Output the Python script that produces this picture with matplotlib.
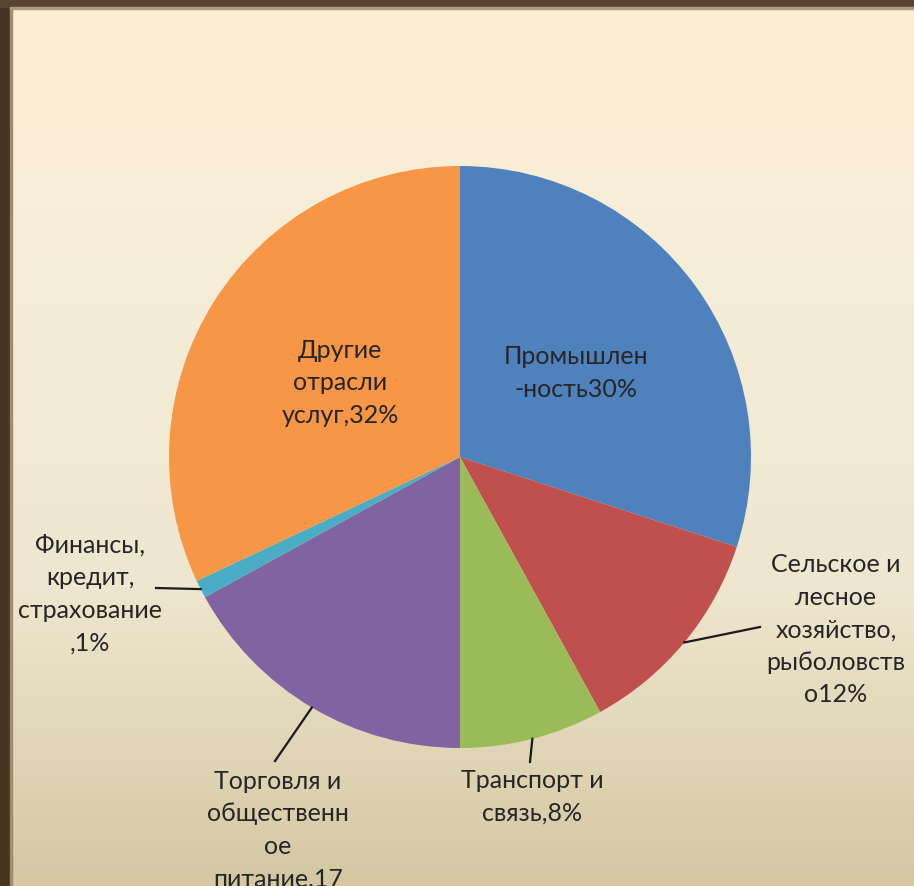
import matplotlib
matplotlib.use('Agg')
import matplotlib.pyplot as plt
import numpy as np
from matplotlib.colors import LinearSegmentedColormap

plt.rcParams['font.family'] = ['Lato', 'DejaVu Sans']

# Sector shares, clockwise from 12 o'clock
labels = [
    'Промышлен\n-ность30%',
    'Сельское и\nлесное\nхозяйство,\nрыболовств\nо12%',
    'Транспорт и\nсвязь,8%',
    'Торговля и\nобщественн\nое\nпитание,17',
    'Финансы,\nкредит,\nстрахование\n,1%',
    'Другие\nотрасли\nуслуг,32%',
]
shares = [30, 12, 8, 17, 1, 32]
colors = ['#4F81BD', '#C0504D', '#9BBB59', '#8064A2', '#4BACC6', '#F79646']

# label anchor (pixel coords, y down) and leader line end points
label_pos = [(576, 373), (836, 630), (532, 797), (278, 830), (90, 594), (340, 383)]
has_leader = [False, True, True, True, True, False]
leader_end = [None, (760, 628), (530, 763), (275, 762), (156, 589), None]

W, H = 914, 887
fig = plt.figure(figsize=(W / 100, H / 100), dpi=100)
ax = fig.add_axes([0, 0, 1, 1])
ax.set_xlim(0, W)
ax.set_ylim(0, H)
ax.set_aspect('equal')
ax.axis('off')

# cream slide background with a soft vertical gradient (light at the top)
bg = LinearSegmentedColormap.from_list('bg', ['#FDEFD3', '#F6EDD8', '#EEE6CE', '#D4C7A2'])
grad = np.linspace(0, 1, 256).reshape(-1, 1)
ax.imshow(grad, cmap=bg, extent=(0, W, 0, H), aspect='auto', zorder=0)

# dark wooden frame on the left and top
ax.add_patch(plt.Rectangle((0, 0), 10, H, color='#4A3220', zorder=1))
ax.add_patch(plt.Rectangle((10, 0), 1.5, H, color='#A48A6E', zorder=1))
ax.add_patch(plt.Rectangle((0, H - 8), W, 8, color='#5A4430', zorder=1))
ax.add_patch(plt.Rectangle((10, H - 9.5), W, 1.5, color='#B09A80', zorder=1))

cx, cy, r = 460, H - 458, 291

wedges, _ = ax.pie(shares, colors=colors, startangle=90, counterclock=False,
                   center=(cx, cy), radius=r, frame=True,
                   wedgeprops=dict(linewidth=0))
ax.set_xlim(0, W)
ax.set_ylim(0, H)
ax.axis('off')

for w, lab, pos, lead, end in zip(wedges, labels, label_pos, has_leader, leader_end):
    w.set_zorder(2)
    x, y = pos
    ax.text(x, H - y, lab, ha='center', va='center', fontsize=18,
            color='#262626', linespacing=1.5, zorder=4)
    if lead:
        mid = np.deg2rad((w.theta1 + w.theta2) / 2)
        sx, sy = cx + r * np.cos(mid), cy + r * np.sin(mid)
        ax.plot([sx, end[0]], [sy, H - end[1]], color='#1A1A1A', lw=1.6, zorder=3)

fig.savefig('out.png', dpi=100)
